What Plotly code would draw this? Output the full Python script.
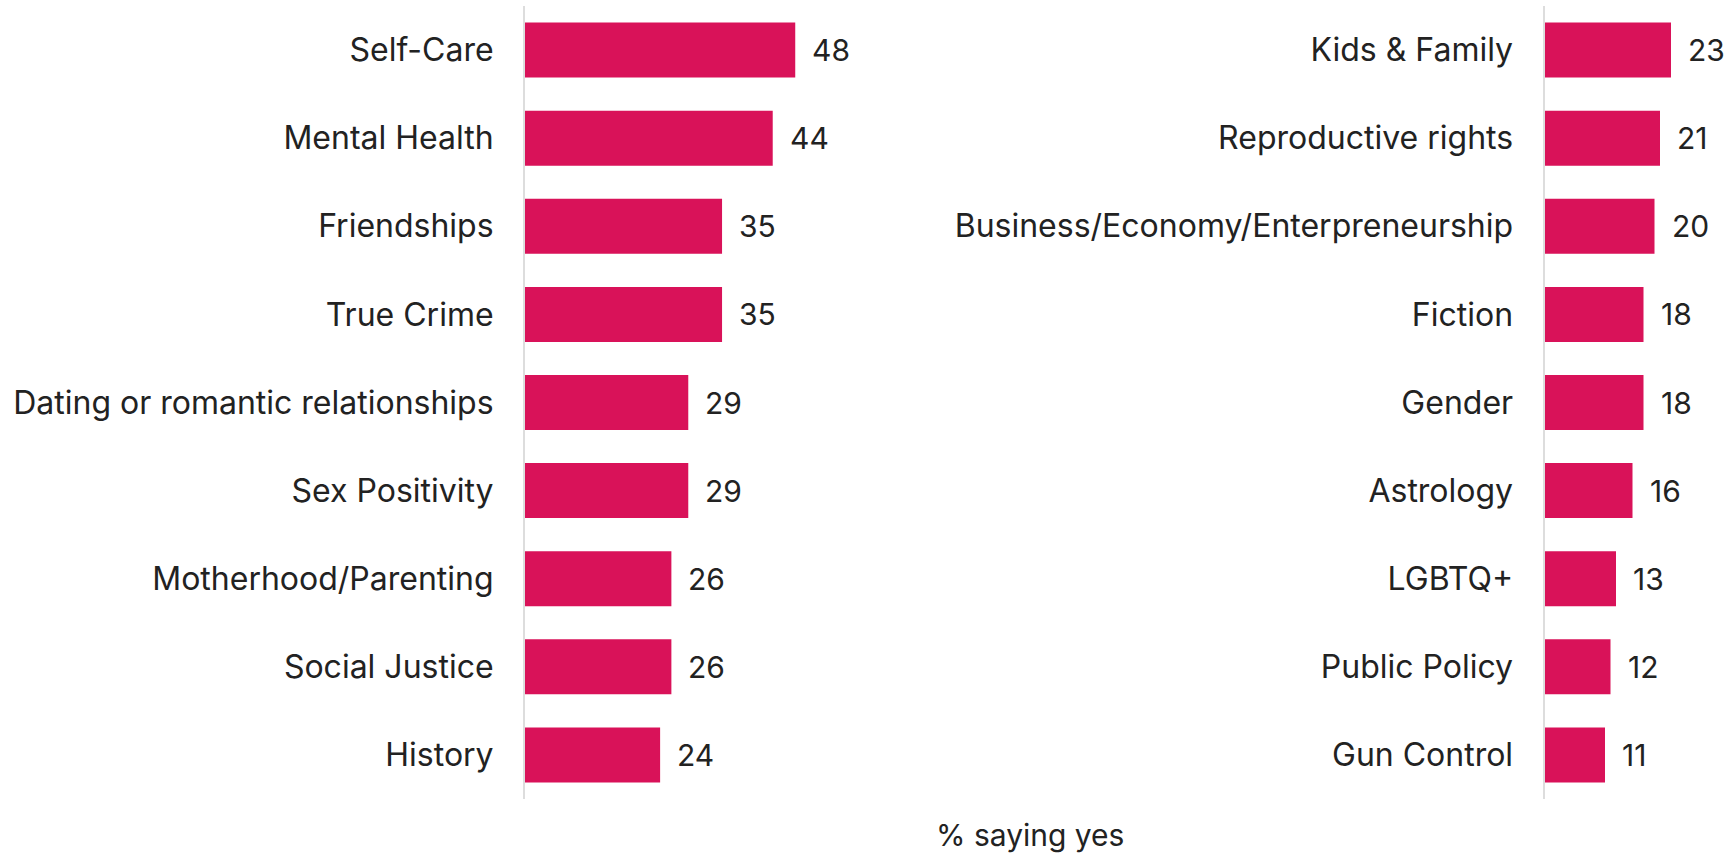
import plotly.graph_objects as go

# Topics shown in the left and right panels (top to bottom)
left_topics = ["Self-Care", "Mental Health", "Friendships", "True Crime",
               "Dating or romantic relationships", "Sex Positivity",
               "Motherhood/Parenting", "Social Justice", "History"]
left_values = [48, 44, 35, 35, 29, 29, 26, 26, 24]

right_topics = ["Kids & Family", "Reproductive rights",
                "Business/Economy/Enterpreneurship", "Fiction", "Gender",
                "Astrology", "LGBTQ+", "Public Policy", "Gun Control"]
right_values = [23, 21, 20, 18, 18, 16, 13, 12, 11]

axis_title = "% saying yes"

W, H = 1734, 853
BAR = "#D91259"
TEXT = "#222222"
FONT = "Inter, Roboto, sans-serif"

fig = go.Figure()
fig.add_trace(go.Bar(x=left_values, y=left_topics, orientation="h",
                     marker=dict(color=BAR, line=dict(width=0)),
                     xaxis="x", yaxis="y", hoverinfo="x+y"))
fig.add_trace(go.Bar(x=right_values, y=right_topics, orientation="h",
                     marker=dict(color=BAR, line=dict(width=0)),
                     xaxis="x2", yaxis="y2", hoverinfo="x+y"))

# value labels next to each bar
annotations = []
for xs, ys, xr, yr in [(left_values, left_topics, "x", "y"),
                       (right_values, right_topics, "x2", "y2")]:
    for v, t in zip(xs, ys):
        annotations.append(dict(x=v, y=t, xref=xr, yref=yr, text=str(v),
                                showarrow=False, xanchor="left", xshift=15,
                                font=dict(size=30, color=TEXT, family=FONT)))

annotations.append(dict(text=axis_title, x=1030 / W, y=-0.045, xref="paper",
                        yref="paper", showarrow=False, xanchor="center",
                        yanchor="middle",
                        font=dict(size=30, color=TEXT, family=FONT)))

# panel geometry (pixels -> paper fractions)
left_x0, left_scale = 525, 5.63
right_x0, right_scale = 1544.5, 5.5
left_max = 50
right_max = (W - right_x0) / right_scale

yaxis_common = dict(autorange="reversed", showgrid=False, zeroline=False,
                    showline=True, linecolor="#DDDDDD", linewidth=2,
                    ticks="", ticklabelstandoff=23,
                    tickfont=dict(size=32, color=TEXT, family=FONT))
xaxis_common = dict(showgrid=False, zeroline=False, showline=False,
                    showticklabels=False, ticks="")

fig.update_layout(
    width=W, height=H,
    margin=dict(l=0, r=0, t=6, b=54),
    paper_bgcolor="white", plot_bgcolor="white",
    showlegend=False, bargap=0.376,
    font=dict(family=FONT, color=TEXT),
    xaxis=dict(domain=[left_x0 / W, (left_x0 + left_max * left_scale) / W],
               range=[0, left_max], anchor="y", **xaxis_common),
    xaxis2=dict(domain=[right_x0 / W, 1.0], range=[0, right_max],
                anchor="y2", **xaxis_common),
    yaxis=dict(anchor="x", **yaxis_common),
    yaxis2=dict(anchor="x2", **yaxis_common),
    annotations=annotations,
)

fig.write_html("out.html")
